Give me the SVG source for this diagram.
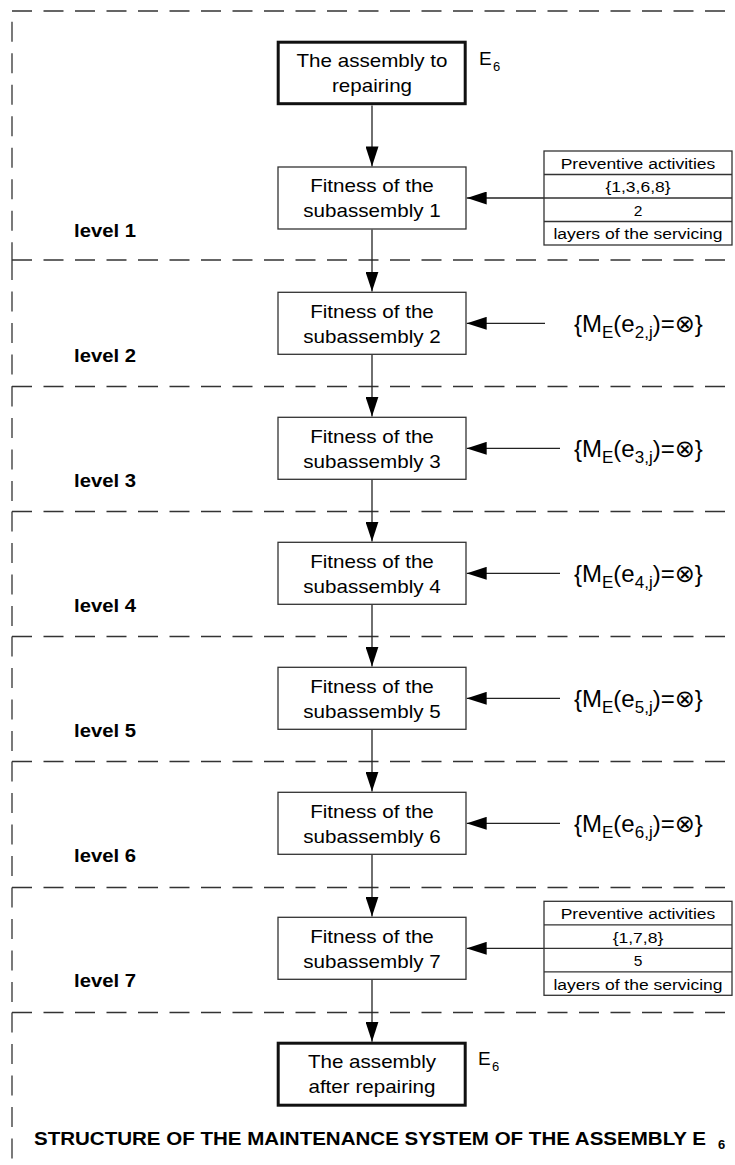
<svg xmlns="http://www.w3.org/2000/svg" width="735" height="1165" viewBox="0 0 735 1165">
<style>
.dash{fill:none;stroke:#333;stroke-width:1.3;stroke-dasharray:20 11.5}
.box{fill:#fff;stroke:#333;stroke-width:1.3}
.bbox{fill:#fff;stroke:#111;stroke-width:3}
.tb{fill:none;stroke:#333;stroke-width:1.3}
.t{font-family:"Liberation Sans",Arial,sans-serif;font-size:19px;fill:#000;text-anchor:middle}
.tt{font-family:"Liberation Sans",Arial,sans-serif;font-size:15.5px;fill:#000;text-anchor:middle}
.lvl{font-family:"Liberation Sans",Arial,sans-serif;font-size:18.7px;font-weight:bold;fill:#000}
.f{font-family:"Liberation Sans","DejaVu Sans",sans-serif;font-size:24px;fill:#000}
.s{font-size:17px}
.e{font-family:"Liberation Sans",Arial,sans-serif;font-size:19px;fill:#000}
.conn{stroke:#222;stroke-width:1.3;fill:none;marker-end:url(#ah)}
</style>
<defs>
<marker id="ah" markerUnits="userSpaceOnUse" viewBox="0 0 20 13" markerWidth="20" markerHeight="13" refX="20" refY="6.5" orient="auto"><path d="M0,0L20,6.5L0,13z" fill="#000"/></marker>
</defs>
<rect width="735" height="1165" fill="#fff"/>
<g id="levels">
<path class="dash" d="M12,11H735"/>
<path class="dash" d="M12,21.7V260"/>
<path class="dash" d="M12,260H735"/><path class="dash" d="M12,260V386.5"/>
<path class="dash" d="M12,386.5H735"/><path class="dash" d="M12,386.5V511.5"/>
<path class="dash" d="M12,511.5H735"/><path class="dash" d="M12,511.5V636.5"/>
<path class="dash" d="M12,636.5H735"/><path class="dash" d="M12,636.5V761.5"/>
<path class="dash" d="M12,761.5H735"/><path class="dash" d="M12,761.5V887.5"/>
<path class="dash" d="M12,887.5H735"/><path class="dash" d="M12,887.5V1012.5"/>
<path class="dash" d="M12,1012.5H735"/><path class="dash" d="M12,1012.5V1165"/>
<text class="lvl" x="74" y="236.7" textLength="62" lengthAdjust="spacingAndGlyphs">level 1</text>
<text class="lvl" x="74" y="361.7" textLength="62" lengthAdjust="spacingAndGlyphs">level 2</text>
<text class="lvl" x="74" y="486.7" textLength="62" lengthAdjust="spacingAndGlyphs">level 3</text>
<text class="lvl" x="74" y="611.7" textLength="62" lengthAdjust="spacingAndGlyphs">level 4</text>
<text class="lvl" x="74" y="736.7" textLength="62" lengthAdjust="spacingAndGlyphs">level 5</text>
<text class="lvl" x="74" y="861.7" textLength="62" lengthAdjust="spacingAndGlyphs">level 6</text>
<text class="lvl" x="74" y="986.7" textLength="62" lengthAdjust="spacingAndGlyphs">level 7</text>
</g>
<g id="connectors">
<path class="conn" d="M372,105.5V166.4"/>
<path class="conn" d="M372,229.6V291.6"/>
<path class="conn" d="M372,354.6V416.6"/>
<path class="conn" d="M372,479.6V541.6"/>
<path class="conn" d="M372,604.6V666.6"/>
<path class="conn" d="M372,729.6V791.6"/>
<path class="conn" d="M372,854.6V916.6"/>
<path class="conn" d="M372,979.6V1041.7"/>
<path class="conn" d="M544,198H466.7"/>
<path class="conn" d="M545,323.3H466.7"/>
<path class="conn" d="M560,448.3H466.7"/>
<path class="conn" d="M560,573.3H466.7"/>
<path class="conn" d="M560,698.3H466.7"/>
<path class="conn" d="M560,823.3H466.7"/>
<path class="conn" d="M544,948.3H466.7"/>
</g>
<g id="start">
<rect class="bbox" x="278.2" y="42.2" width="187" height="61.5"/>
<text class="t" x="372" y="67.2" textLength="151" lengthAdjust="spacingAndGlyphs">The assembly to</text>
<text class="t" x="372" y="92.2" textLength="80" lengthAdjust="spacingAndGlyphs">repairing</text>
<text class="e" x="479" y="65">E</text><text class="e" x="493" y="71" style="font-size:13px">6</text>
</g>
<g id="sub1">
<rect class="box" x="278" y="167" width="188" height="62"/>
<text class="t" x="372" y="192.4" textLength="123.7" lengthAdjust="spacingAndGlyphs">Fitness of the</text>
<text class="t" x="372" y="217.2" textLength="137.4" lengthAdjust="spacingAndGlyphs">subassembly 1</text>
</g>
<g id="table1">
<rect class="tb" x="544" y="151" width="188" height="94"/>
<path class="tb" d="M544,174.5H732M544,198H732M544,221.5H732"/>
<text class="tt" x="638" y="168.75" textLength="154.6" lengthAdjust="spacingAndGlyphs">Preventive activities</text>
<text class="tt" x="638" y="192.25" textLength="65.2" lengthAdjust="spacingAndGlyphs">{1,3,6,8}</text>
<text class="tt" x="638" y="215.75">2</text>
<text class="tt" x="638" y="239.25" textLength="169.2" lengthAdjust="spacingAndGlyphs">layers of the servicing</text>
</g>
<g id="sub2">
<rect class="box" x="278" y="292.3" width="188" height="62"/>
<text class="t" x="372" y="317.6" textLength="123.7" lengthAdjust="spacingAndGlyphs">Fitness of the</text>
<text class="t" x="372" y="342.5" textLength="137.4" lengthAdjust="spacingAndGlyphs">subassembly 2</text>
</g>
<g id="f2"><text class="f" x="574" y="332.3">{M<tspan class="s" dy="6">E</tspan><tspan dy="-6">(e</tspan><tspan class="s" dy="6">2,j</tspan><tspan dy="-6">)=⊗}</tspan></text></g>
<g id="sub3">
<rect class="box" x="278" y="417.3" width="188" height="62"/>
<text class="t" x="372" y="442.6" textLength="123.7" lengthAdjust="spacingAndGlyphs">Fitness of the</text>
<text class="t" x="372" y="467.5" textLength="137.4" lengthAdjust="spacingAndGlyphs">subassembly 3</text>
</g>
<g id="f3"><text class="f" x="574" y="457.3">{M<tspan class="s" dy="6">E</tspan><tspan dy="-6">(e</tspan><tspan class="s" dy="6">3,j</tspan><tspan dy="-6">)=⊗}</tspan></text></g>
<g id="sub4">
<rect class="box" x="278" y="542.3" width="188" height="62"/>
<text class="t" x="372" y="567.6" textLength="123.7" lengthAdjust="spacingAndGlyphs">Fitness of the</text>
<text class="t" x="372" y="592.5" textLength="137.4" lengthAdjust="spacingAndGlyphs">subassembly 4</text>
</g>
<g id="f4"><text class="f" x="574" y="582.3">{M<tspan class="s" dy="6">E</tspan><tspan dy="-6">(e</tspan><tspan class="s" dy="6">4,j</tspan><tspan dy="-6">)=⊗}</tspan></text></g>
<g id="sub5">
<rect class="box" x="278" y="667.3" width="188" height="62"/>
<text class="t" x="372" y="692.6" textLength="123.7" lengthAdjust="spacingAndGlyphs">Fitness of the</text>
<text class="t" x="372" y="717.5" textLength="137.4" lengthAdjust="spacingAndGlyphs">subassembly 5</text>
</g>
<g id="f5"><text class="f" x="574" y="707.3">{M<tspan class="s" dy="6">E</tspan><tspan dy="-6">(e</tspan><tspan class="s" dy="6">5,j</tspan><tspan dy="-6">)=⊗}</tspan></text></g>
<g id="sub6">
<rect class="box" x="278" y="792.3" width="188" height="62"/>
<text class="t" x="372" y="817.6" textLength="123.7" lengthAdjust="spacingAndGlyphs">Fitness of the</text>
<text class="t" x="372" y="842.5" textLength="137.4" lengthAdjust="spacingAndGlyphs">subassembly 6</text>
</g>
<g id="f6"><text class="f" x="574" y="832.3">{M<tspan class="s" dy="6">E</tspan><tspan dy="-6">(e</tspan><tspan class="s" dy="6">6,j</tspan><tspan dy="-6">)=⊗}</tspan></text></g>
<g id="sub7">
<rect class="box" x="278" y="917.3" width="188" height="62"/>
<text class="t" x="372" y="942.6" textLength="123.7" lengthAdjust="spacingAndGlyphs">Fitness of the</text>
<text class="t" x="372" y="967.5" textLength="137.4" lengthAdjust="spacingAndGlyphs">subassembly 7</text>
</g>
<g id="table7">
<rect class="tb" x="544" y="901.3" width="188" height="94"/>
<path class="tb" d="M544,924.8H732M544,948.3H732M544,971.8H732"/>
<text class="tt" x="638" y="919" textLength="154.6" lengthAdjust="spacingAndGlyphs">Preventive activities</text>
<text class="tt" x="638" y="942.5" textLength="50.6" lengthAdjust="spacingAndGlyphs">{1,7,8}</text>
<text class="tt" x="638" y="966">5</text>
<text class="tt" x="638" y="989.5" textLength="169.2" lengthAdjust="spacingAndGlyphs">layers of the servicing</text>
</g>
<g id="end">
<rect class="bbox" x="278.2" y="1043.2" width="187" height="62"/>
<text class="t" x="372" y="1068.3" textLength="128.2" lengthAdjust="spacingAndGlyphs">The assembly</text>
<text class="t" x="372" y="1093.3" textLength="127.1" lengthAdjust="spacingAndGlyphs">after repairing</text>
<text class="e" x="478" y="1065">E</text><text class="e" x="492" y="1071" style="font-size:13px">6</text>
</g>
<g id="title">
<text class="lvl" x="34" y="1145" style="font-size:19px" textLength="672" lengthAdjust="spacingAndGlyphs">STRUCTURE OF THE MAINTENANCE SYSTEM OF THE ASSEMBLY E</text>
<text class="lvl" x="718" y="1149" style="font-size:13px">6</text>
</g>
</svg>
